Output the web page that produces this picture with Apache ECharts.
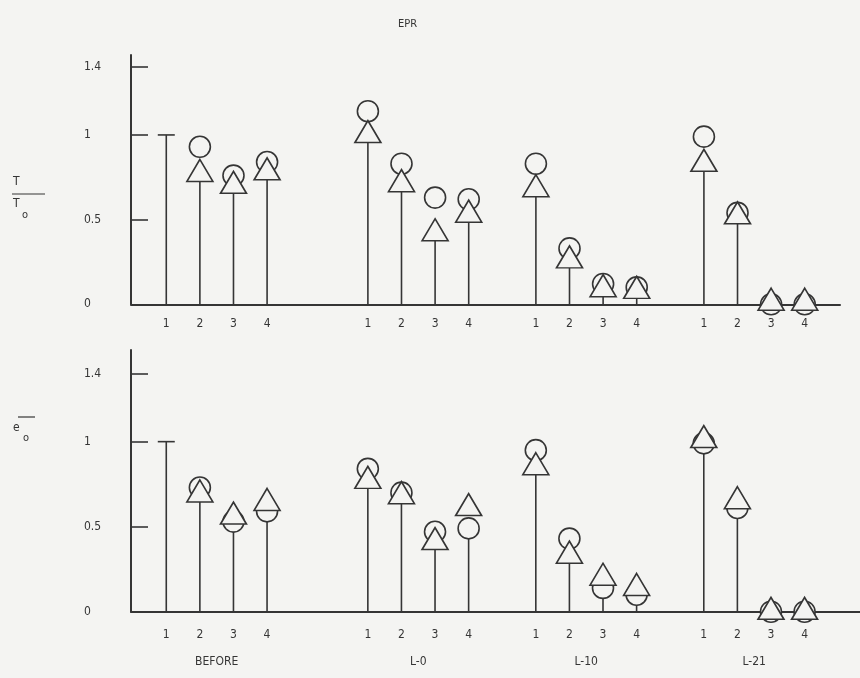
<!DOCTYPE html>
<html><head><meta charset="utf-8">
<script src="https://cdn.jsdelivr.net/npm/echarts@6/dist/echarts.min.js"></script>
<style>html,body{margin:0;padding:0;background:#f4f4f2}#c{width:860px;height:678px}</style>
</head><body><div id="c"></div>
<script>
// ---- data ----
const xCategories = ['1','2','3','4','','','1','2','3','4','','1','2','3','4','','1','2','3','4'];
const groups = ['BEFORE','L-0','L-10','L-21'];
const yTicks = [0, 0.5, 1, 1.4];
const yTickLabels = ['0', '0.5', '1', '1.4'];

// T/T0 panel
const tReference = [1.0,null,null,null,null,null,null,null,null,null,null,null,null,null,null,null,null,null,null,null];
const tCircle    = [null,0.93,0.76,0.84,null,null,1.14,0.83,0.63,0.62,null,0.83,0.33,0.12,0.10,null,0.99,0.54,0.00,0.00];
const tTriangle  = [null,0.79,0.72,0.80,null,null,1.02,0.73,0.44,0.55,null,0.70,0.28,0.11,0.10,null,0.85,0.54,0.03,0.03];
// e/e0 panel
const eReference = [1.0,null,null,null,null,null,null,null,null,null,null,null,null,null,null,null,null,null,null,null];
const eCircle    = [null,0.73,0.53,0.59,null,null,0.84,0.70,0.47,0.49,null,0.95,0.43,0.14,0.10,null,0.99,0.61,0.00,0.00];
const eTriangle  = [null,0.71,0.58,0.66,null,null,0.79,0.70,0.43,0.63,null,0.87,0.35,0.22,0.16,null,1.03,0.67,0.02,0.02];

// ---- build ----
const ink = '#353535';
const bg = '#f4f4f2';
const font = '"DejaVu Sans Condensed","Liberation Sans Narrow","DejaVu Sans",sans-serif';

const labelIdx = xCategories.map((c,i)=>c!==''?i:null).filter(v=>v!==null);
const groupCenters = [];
{ let run=[]; xCategories.forEach((c,i)=>{ if(c!==''){run.push(i);} else if(run.length){groupCenters.push(run.reduce((a,b)=>a+b)/run.length); run=[];} });
  if(run.length) groupCenters.push(run.reduce((a,b)=>a+b)/run.length); }

function pts(arr){ return arr.map((v,i)=>v==null?null:[i,v]).filter(Boolean); }
function stems(ref, c, t){
  const out=[];
  xCategories.forEach((cat,i)=>{
    if(ref[i]!=null) out.push([i, ref[i], 1]);
    else if(c[i]!=null || t[i]!=null){
      const vals=[c[i],t[i]].filter(v=>v!=null);
      out.push([i, Math.min(...vals), 0]);
    }
  });
  return out;
}
function renderStem(params, api){
  const x=api.value(0), v=api.value(1), cap=api.value(2);
  const p0=api.coord([x,0]), p1=api.coord([x,v]);
  const ch=[{type:'line',shape:{x1:p0[0],y1:p0[1],x2:p1[0],y2:p1[1]},style:{stroke:ink,lineWidth:1.6}}];
  if(cap) ch.push({type:'line',shape:{x1:p1[0]-8.5,y1:p1[1],x2:p1[0]+8.5,y2:p1[1]},style:{stroke:ink,lineWidth:1.6}});
  return {type:'group',children:ch};
}

function yAxisDef(grid, max){
  return {type:'value', gridIndex:grid, min:0, max:max,
    axisLine:{show:true,onZero:false,lineStyle:{color:ink,width:2}},
    axisTick:{show:true,inside:true,length:17,customValues:[0.5,1,1.4],lineStyle:{color:ink,width:1.6}},
    splitLine:{show:false},
    axisLabel:{customValues:yTicks, align:'left', margin:47, verticalAlign:'middle', padding:[12,0,0,0],
      color:ink, fontSize:12, fontFamily:font,
      formatter:v=>{const k=yTicks.findIndex(t=>Math.abs(t-v)<1e-6); return k>=0?yTickLabels[k]:'';}}
  };
}
function xAxisDef(grid, max, margin){
  return {type:'value', gridIndex:grid, position:'bottom', min:-1.05, max:max,
    axisLine:{show:true,onZero:true,lineStyle:{color:ink,width:2}},
    axisTick:{show:false}, splitLine:{show:false},
    axisLabel:{customValues:labelIdx, margin:margin, color:ink, fontSize:12, fontFamily:font,
      formatter:v=>xCategories[Math.round(v)]}
  };
}
function markerSeries(xi, yi, ref, c, t){
  return [
    {type:'custom', xAxisIndex:xi, yAxisIndex:yi, renderItem:renderStem, data:stems(ref,c,t), z:2, silent:true},
    {type:'scatter', xAxisIndex:xi, yAxisIndex:yi, symbol:'circle', symbolSize:21, data:pts(c),
      itemStyle:{color:bg,borderColor:ink,borderWidth:1.6,opacity:1}, z:3, silent:true},
    {type:'scatter', xAxisIndex:xi, yAxisIndex:yi, symbol:'triangle', symbolSize:[26,22], data:pts(t),
      itemStyle:{color:bg,borderColor:ink,borderWidth:1.6,opacity:1}, z:4, silent:true}
  ];
}

const chart = echarts.init(document.getElementById('c'), null, {renderer:'canvas'});
chart.setOption({
  backgroundColor: bg,
  animation:false,
  title:{text:'EPR', left:393, top:14, textStyle:{fontSize:11, fontWeight:'normal', color:ink, fontFamily:font}},
  grid:[
    {left:131, top:55, width:709, height:249.3},
    {left:131, top:350, width:729, height:261.7}
  ],
  xAxis:[
    xAxisDef(0, 20.05, 14),
    xAxisDef(1, 20.65, 17),
    {type:'value', gridIndex:1, position:'bottom', min:-1.05, max:20.65,
     axisLine:{show:false,onZero:false}, axisTick:{show:false}, splitLine:{show:false},
     axisLabel:{customValues:groupCenters, margin:44, color:ink, fontSize:12, fontFamily:font,
       formatter:v=>{const k=groupCenters.findIndex(g=>Math.abs(g-v)<1e-6); return k>=0?groups[k]:'';}}}
  ],
  yAxis:[ yAxisDef(0, 1.472), yAxisDef(1, 1.539) ],
  series:[
    ...markerSeries(0,0,tReference,tCircle,tTriangle),
    ...markerSeries(1,1,eReference,eCircle,eTriangle)
  ],
  graphic:[
    {type:'text', left:13, top:176, style:{text:'T', fontSize:12, fill:ink, fontFamily:font}},
    {type:'line', shape:{x1:12,y1:194,x2:45,y2:194}, style:{stroke:ink,lineWidth:1.2}},
    {type:'text', left:13, top:198, style:{text:'T', fontSize:12, fill:ink, fontFamily:font}},
    {type:'text', left:22, top:210, style:{text:'o', fontSize:11, fill:ink, fontFamily:font}},
    {type:'line', shape:{x1:18,y1:417,x2:35,y2:417}, style:{stroke:ink,lineWidth:1.2}},
    {type:'text', left:13, top:422, style:{text:'e', fontSize:12, fill:ink, fontFamily:font}},
    {type:'text', left:23, top:433, style:{text:'o', fontSize:11, fill:ink, fontFamily:font}}
  ]
});
</script></body></html>
